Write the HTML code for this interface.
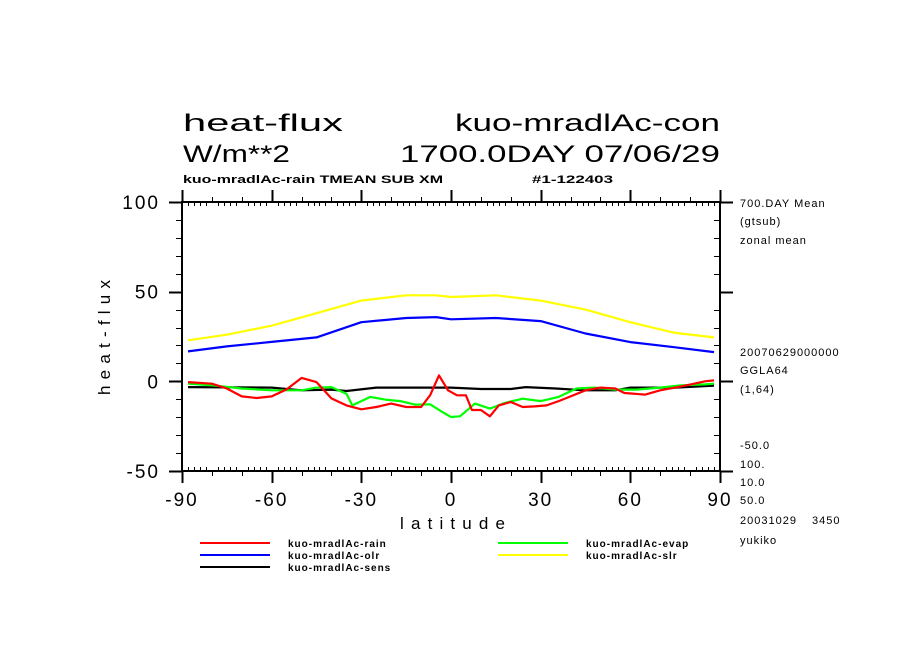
<!DOCTYPE html>
<html><head><meta charset="utf-8"><style>
html,body{margin:0;padding:0;background:#fff;}
svg{display:block;font-family:"Liberation Sans",sans-serif;}
</style></head><body>
<svg id="chart" width="904" height="654" viewBox="0 0 904 654">
<g font-size="24" fill="#000">
<text x="183" y="131" textLength="160" lengthAdjust="spacingAndGlyphs">heat-flux</text>
<text x="455" y="131" textLength="265" lengthAdjust="spacingAndGlyphs">kuo-mradlAc-con</text>
<text x="183" y="162" textLength="107" lengthAdjust="spacingAndGlyphs">W/m**2</text>
<text x="400" y="162" textLength="320" lengthAdjust="spacingAndGlyphs">1700.0DAY 07/06/29</text>
<text x="183" y="183" font-size="11" font-weight="bold" textLength="260" lengthAdjust="spacingAndGlyphs">kuo-mradlAc-rain TMEAN SUB XM</text>
<text x="532" y="183" font-size="11" font-weight="bold" textLength="81" lengthAdjust="spacingAndGlyphs">#1-122403</text>
</g>
<g id="axes"></g>
<g id="series"></g>
<g font-size="11" fill="#000" letter-spacing="1">
<text x="740" y="207">700.DAY Mean</text>
<text x="740" y="225">(gtsub)</text>
<text x="740" y="244">zonal mean</text>
<text x="740" y="356">20070629000000</text>
<text x="740" y="374">GGLA64</text>
<text x="740" y="393">(1,64)</text>
<text x="740" y="449">-50.0</text>
<text x="740" y="468">100.</text>
<text x="740" y="486">10.0</text>
<text x="740" y="504">50.0</text>
<text x="740" y="524">20031029</text>
<text x="812" y="524">3450</text>
<text x="740" y="544">yukiko</text>
</g>
<g id="legend"></g>
</svg>
<script>
const lats=[-88,-80,-75,-70,-65,-60,-55,-50,-45,-40,-35,-30,-25,-20,-15,-10,-7,-4,-1,2,5,7,10,13,16,20,24,28,32,36,40,45,50,55,58,65,70,75,80,85,88];
const rain=[-0.4,-1.3,-4,-8.4,-9.3,-8.4,-4.5,1.9,-0.4,-9.5,-13.4,-15.6,-14.3,-12.4,-14.3,-14.3,-7.8,3.3,-5,-7.8,-7.8,-16,-16,-19.5,-13.4,-11.5,-14.3,-14,-13.4,-11,-8.4,-5,-3.5,-4,-6.5,-7.4,-5,-3.5,-1.8,0,0.5];
const evapLats=[-88,-80,-70,-60,-50,-45,-40,-35,-33,-27,-22,-17,-12,-7,-3,0,3,8,13,18,24,30,36,42,48,55,62,70,77,85,88];
const evap=[-1.3,-2.2,-4,-5,-5,-3.5,-3.2,-6.9,-13.4,-8.7,-10.2,-11,-13,-12.8,-17,-19.9,-19.5,-12.4,-15.2,-12,-9.7,-11,-8.7,-4,-3.5,-4.6,-4.6,-3.5,-2.2,-1.7,-1.3];
const smoothLats=[-88,-75,-60,-45,-30,-15,-5,0,15,30,45,60,75,88];
const olr=[16.7,19.5,22,24.5,33,35.3,35.8,34.6,35.3,33.6,26.7,21.9,19,16.3];
const slr=[22.9,26,31,38,45,48,48,47,48,45,40,33,27,24.5];
const sensLats=[-88,-60,-50,-40,-35,-25,-15,-5,0,10,20,25,35,45,55,60,75,88];
const sens=[-3.2,-3.5,-5,-4.6,-5.4,-3.5,-3.5,-3.5,-3.5,-4.3,-4.3,-3.2,-4,-5,-5,-3.5,-3.5,-2.4];
const xTicks=[-90,-60,-30,0,30,60,90];
const yTicks=[100,50,0,-50];

const NS="http://www.w3.org/2000/svg";
const X0=182,X1=720,Y0=471,Y1=202;
function sx(v){return X0+(v+90)*(X1-X0)/180;}
function sy(v){return Y0-(v+50)*(Y0-Y1)/150;}
function mk(tag,attrs,parent){const e=document.createElementNS(NS,tag);for(const k in attrs)e.setAttribute(k,attrs[k]);parent.appendChild(e);return e;}
const axes=document.getElementById('axes');
const frame=mk('rect',{x:X0,y:Y1,width:X1-X0,height:Y0-Y1,fill:'none',stroke:'#000','stroke-width':2},axes);


for(let v=-90;v<=90;v+=2){
  const x=Math.round(sx(v))+0.5;
  let d;
  if(v%30===0){d=`M${x} ${Y0}V${Y0+12}M${x} ${Y1}V${Y1-12}`;}
  else if(v%10===0){d=`M${x} ${Y0}V${Y0+5}M${x} ${Y1}V${Y1-5}`;}
  else {d=`M${x} ${Y0}V${Y0-4}M${x} ${Y1}V${Y1+4}`;}
  const t=mk('path',{d:d,stroke:'#000','stroke-width':v%30===0?2:1},axes);
  
  
}
for(let v=-50;v<=100;v+=10){
  const y=Math.round(sy(v))+0.5;
  let d;
  if(v%50===0){d=`M${X0} ${y}H${X0-13}M${X1} ${y}H${X1+13}`;}
  else {d=`M${X0} ${y}H${X0-6}M${X1} ${y}H${X1-6}`;}
  const t=mk('path',{d:d,stroke:'#000','stroke-width':v%50===0?2:1},axes);
  
  
}
xTicks.forEach(v=>{
  const t=mk('text',{x:sx(v),y:506,'text-anchor':'middle','font-size':19,'letter-spacing':2},axes);
  t.textContent=v;
  
  
});
yTicks.forEach(v=>{
  const t=mk('text',{x:160,y:sy(v)+7,'text-anchor':'end','font-size':19,'letter-spacing':2},axes);
  t.textContent=v;
  
  
});
const xt=mk('text',{x:400,y:529,'font-size':17,textLength:105,lengthAdjust:'spacing'},axes);
xt.textContent='latitude';


const yt=mk('text',{x:0,y:0,'font-size':17,textLength:115,lengthAdjust:'spacing',transform:'translate(110,395) rotate(-90)'},axes);
yt.textContent='heat-flux';



const ser=document.getElementById('series');
function line(xs,ys,color,name){
  const pts=xs.map((v,i)=>sx(v).toFixed(1)+','+sy(ys[i]).toFixed(1)).join(' ');
  const p=mk('polyline',{points:pts,fill:'none',stroke:color,'stroke-width':2.2,'stroke-linejoin':'round'},ser);
  
  
}
line(smoothLats,slr,'#ffff00','series-slr');
line(smoothLats,olr,'#0000ff','series-olr');
line(sensLats,sens,'#000000','series-sens');
line(evapLats,evap,'#00ff00','series-evap');
line(lats,rain,'#ff0000','series-rain');

const leg=document.getElementById('legend');
const entries=[[200,543,'#ff0000','kuo-mradlAc-rain'],[200,555,'#0000ff','kuo-mradlAc-olr'],[200,567,'#000000','kuo-mradlAc-sens'],[498,543,'#00ff00','kuo-mradlAc-evap'],[498,555,'#ffff00','kuo-mradlAc-slr']];
entries.forEach(e=>{
  const g=mk('g',{},leg);
  
  
  mk('path',{d:`M${e[0]} ${e[1]}H${e[0]+70}`,stroke:e[2],'stroke-width':2},g);
  const t=mk('text',{x:e[0]+88,y:e[1]+4,'font-size':10,'font-weight':'bold','letter-spacing':1},g);
  t.textContent=e[3];
});
</script>
</body></html>
